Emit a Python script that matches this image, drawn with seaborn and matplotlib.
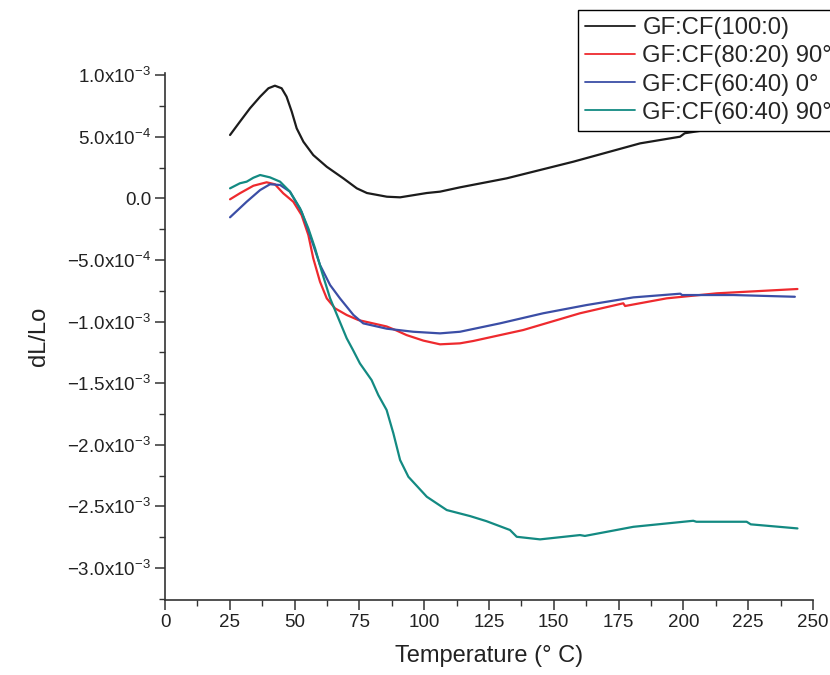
import numpy as np
import pandas as pd
import matplotlib
matplotlib.use("Agg")
import matplotlib.pyplot as plt
from matplotlib.ticker import FuncFormatter, MultipleLocator
import seaborn as sns

# ---------------- data (dL/Lo in units of 1e-4) ----------------
labels = ["GF:CF(100:0)", "GF:CF(80:20) 90°", "GF:CF(60:40) 0°", "GF:CF(60:40) 90°"]
colors = ["#1c1c1c", "#ee2a2e", "#3b4ea6", "#138a82"]

black_T = [25.1, 28.9, 32.8, 36.7, 39.9, 42.4, 45.0, 46.9, 48.9, 50.8, 53.4, 57.2, 62.4,
           68.8, 74, 77.9, 85.6, 90.7, 101, 106.1, 113.8, 131.8, 157.5, 183.3, 198.7,
           200.5, 212.8, 225, 244]
black_y = [5.14, 6.22, 7.31, 8.25, 8.93, 9.14, 8.93, 8.25, 7.03, 5.68, 4.59, 3.51, 2.56,
           1.62, 0.81, 0.43, 0.13, 0.08, 0.43, 0.54, 0.89, 1.62, 2.97, 4.46, 5.0,
           5.28, 5.68, 6.0, 6.4]

red_T = [25.1, 28.9, 34.1, 39.2, 42.4, 45.6, 49.5, 52.7, 55.3, 57.2, 59.8, 62.4, 65.6,
         70.1, 74.6, 85.5, 89, 93.2, 99.7, 106.1, 113.8, 118.9, 138.2, 160.1, 176.8,
         177.5, 193.5, 212.9, 244]
red_y = [-0.08, 0.41, 1.02, 1.30, 1.14, 0.41, -0.28, -1.36, -2.98, -4.87, -6.77, -8.12, -8.93,
         -9.47, -9.88, -10.4, -10.7, -11.1, -11.55, -11.85, -11.77, -11.58, -10.69, -9.33, -8.52,
         -8.74, -8.12, -7.71, -7.36]

blue_T = [25.1, 31.5, 36.7, 40.5, 44.4, 48.2, 52.7, 55.9, 59.8, 63.7, 67.5, 72.7, 76.5,
          85.5, 95.8, 106.1, 113.8, 129.2, 145.9, 162.7, 180.7, 198.8, 199.5, 219.3, 243]
blue_y = [-1.54, -0.28, 0.67, 1.14, 1.08, 0.54, -1.09, -2.98, -5.41, -7.04, -8.12, -9.47, -10.15,
          -10.58, -10.83, -10.96, -10.83, -10.15, -9.33, -8.66, -8.04, -7.74, -7.85, -7.85, -7.99]

teal_T = [25.1, 28.9, 31.5, 34.1, 36.7, 40.5, 44.4, 48.2, 52.1, 55.3, 57.9, 60.5, 63.7,
          66.9, 70.1, 72.5, 75.2, 79.7, 82.3, 85.5, 88.1, 90.7, 93.9, 101, 108.7, 117.7,
          124, 133.1, 135.7, 144.7, 160.1, 162, 180.7, 203.8, 205, 224.4, 226, 244]
teal_y = [0.81, 1.22, 1.35, 1.67, 1.89, 1.70, 1.35, 0.54, -0.81, -2.44, -4.06, -5.96, -8.12,
          -9.74, -11.36, -12.3, -13.4, -14.75, -15.97, -17.18, -19.07, -21.24, -22.6, -24.22, -25.3, -25.79,
          -26.2, -26.92, -27.47, -27.68, -27.33, -27.4, -26.66, -26.17, -26.25, -26.25, -26.46, -26.79]

series_T = [black_T, red_T, blue_T, teal_T]
series_y = [black_y, red_y, blue_y, teal_y]

# ---------------- style ----------------
sns.set_theme(style="ticks")
plt.rcParams["font.family"] = ["Liberation Sans", "DejaVu Sans"]
plt.rcParams["mathtext.fontset"] = "custom"
plt.rcParams["mathtext.rm"] = "Liberation Sans"
plt.rcParams["mathtext.it"] = "Liberation Sans:italic"
plt.rcParams["mathtext.bf"] = "Liberation Sans:bold"

fig = plt.figure(figsize=(8.3, 6.75), dpi=100)
ax = fig.add_axes([165 / 830, 1 - 600 / 675, (813 - 165) / 830, (600 - 73) / 675])

for T, y, lab, c in zip(series_T, series_y, labels, colors):
    df = pd.DataFrame({"T": T, "dL": np.array(y) * 1e-4})
    sns.lineplot(data=df, x="T", y="dL", ax=ax, color=c, label=lab,
                 estimator=None, sort=False, linewidth=1.6)

ax.set_xlim(0, 250)
ax.set_ylim(-3.26e-3, 1.017e-3)

ax.xaxis.set_major_locator(MultipleLocator(25))
ax.xaxis.set_minor_locator(MultipleLocator(12.5))
ax.yaxis.set_major_locator(MultipleLocator(5e-4))
ax.yaxis.set_minor_locator(MultipleLocator(2.5e-4))


def yfmt(v, pos):
    if abs(v) < 1e-12:
        return "0.0"
    e = int(np.floor(np.log10(abs(v)) + 1e-9))
    m = abs(v) / 10 ** e
    sign = "\u2212" if v < 0 else ""
    return f"{sign}{m:.1f}x10$^{{{e}}}$"


ax.yaxis.set_major_formatter(FuncFormatter(yfmt))
ax.xaxis.set_major_formatter(FuncFormatter(lambda v, p: f"{int(round(v))}"))

for s in ["top", "right"]:
    ax.spines[s].set_visible(False)
for s in ["left", "bottom"]:
    ax.spines[s].set_color("#333333")
    ax.spines[s].set_linewidth(1.2)

ax.tick_params(axis="both", which="major", direction="out", length=7, width=1.1,
               colors="#333333", labelcolor="#222222", labelsize=13.5, pad=3)
ax.tick_params(axis="both", which="minor", direction="out", length=4, width=1.0,
               colors="#333333")

ax.set_xlabel("Temperature (° C)", fontsize=17, color="#222222", labelpad=10)
ax.set_ylabel("dL/Lo", fontsize=17, color="#222222", labelpad=12)

leg = ax.legend(loc="upper left", bbox_to_anchor=(578 / 830, 1 - 10 / 675),
                bbox_transform=fig.transFigure, frameon=True, fancybox=False,
                edgecolor="black", framealpha=1, fontsize=17.2,
                handlelength=2.1, handletextpad=0.3, borderpad=0.3,
                labelspacing=0.26, borderaxespad=0)
leg.get_frame().set_linewidth(1.0)
for line in leg.get_lines():
    line.set_linewidth(1.3)

fig.savefig("out.png", dpi=100)
